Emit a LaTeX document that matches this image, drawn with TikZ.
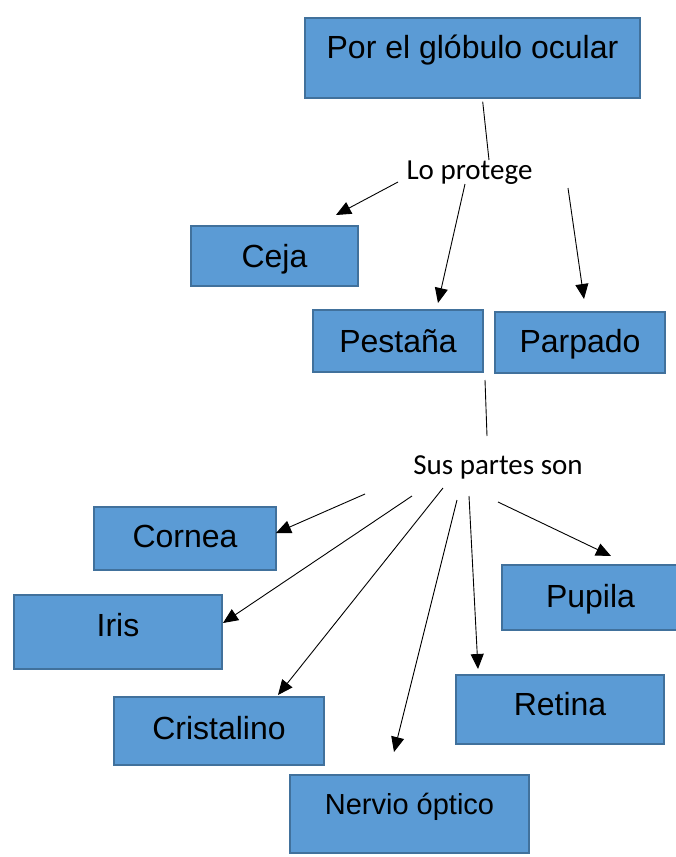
\documentclass[tikz,border=0pt]{standalone}
\usepackage{fontspec}
\setmainfont{Liberation Sans}
\newfontfamily\calibri{Carlito}
\usepackage{xcolor}
\usetikzlibrary{arrows.meta}
\definecolor{cajaazul}{HTML}{5B9BD5}
\definecolor{bordeazul}{HTML}{41719C}

\begin{document}
\begin{tikzpicture}[x=1pt, y=-1pt,
		caja/.style={draw=bordeazul, line width=1.6pt, fill=cajaazul, inner sep=0pt, outer sep=0pt, anchor=north west, align=center, font=\fontsize{32}{38}\selectfont},
		enlace/.style={font=\calibri\fontsize{29}{34}\selectfont, inner sep=0pt},
		flecha/.style={line width=0.9pt, -{Triangle[length=15pt, width=13pt]}},
		linea/.style={line width=0.9pt}]
		\useasboundingbox (0,0) rectangle (676,857);
		% cajas
		\node[caja, minimum width=335pt, text height=40pt, text depth=40pt] (ocular) at (305,18) {Por el glóbulo ocular};
		\node[caja, minimum width=167pt, text height=41pt, text depth=19pt] (ceja) at (191,226) {Ceja};
		\node[caja, minimum width=170pt, text height=42pt, text depth=20pt] (pestana) at (313,310) {Pestaña};
		\node[caja, minimum width=170pt, text height=40pt, text depth=21pt] (parpado) at (495,312) {Parpado};
		\node[caja, minimum width=182pt, text height=40pt, text depth=23pt] (cornea) at (94,507) {Cornea};
		\node[caja, minimum width=208pt, text height=41pt, text depth=33pt] (iris) at (14,595) {Iris};
		\node[caja, minimum width=177pt, text height=42pt, text depth=23pt] (pupila) at (502,565) {Pupila};
		\node[caja, minimum width=208pt, text height=40pt, text depth=29pt] (retina) at (456,675) {Retina};
		\node[caja, minimum width=210pt, text height=42pt, text depth=26pt] (cristalino) at (114,697) {Cristalino};
		\node[caja, minimum width=239pt, text height=39pt, text depth=39pt, font=\fontsize{29}{34}\selectfont] (nervio) at (290,775) {Nervio óptico};
		% textos de enlace
		\node[enlace, anchor=base] (protege) at (469.5,179) {Lo protege};
		\node[enlace, anchor=base] (partes) at (498,474) {Sus partes son};
		% extremos de los conectores
		\coordinate (o1) at (482.7,101.7);
		\coordinate (o2) at (489,160);
		\coordinate (c1) at (398,182);
		\coordinate (c2) at (336,215);
		\coordinate (e1) at (465,184);
		\coordinate (e2) at (438,303);
		\coordinate (a1) at (568,188);
		\coordinate (a2) at (584,299);
		\coordinate (s1) at (485,380);
		\coordinate (s2) at (487,436);
		\coordinate (co1) at (365,494);
		\coordinate (co2) at (276,533);
		\coordinate (ir1) at (412,496);
		\coordinate (ir2) at (223,623);
		\coordinate (cr1) at (443,488);
		\coordinate (cr2) at (278,695);
		\coordinate (ne1) at (457,500);
		\coordinate (ne2) at (394,752);
		\coordinate (re1) at (469,496);
		\coordinate (re2) at (478,669);
		\coordinate (pu1) at (498,502);
		\coordinate (pu2) at (611,556);
		% conectores
		\draw[linea] (o1) -- (o2);
		\draw[flecha] (c1) -- (c2);
		\draw[flecha] (e1) -- (e2);
		\draw[flecha] (a1) -- (a2);
		\draw[linea] (s1) -- (s2);
		\draw[flecha] (co1) -- (co2);
		\draw[flecha] (ir1) -- (ir2);
		\draw[flecha] (cr1) -- (cr2);
		\draw[flecha] (ne1) -- (ne2);
		\draw[flecha] (re1) -- (re2);
		\draw[flecha] (pu1) -- (pu2);
	\end{tikzpicture}
\end{document}
